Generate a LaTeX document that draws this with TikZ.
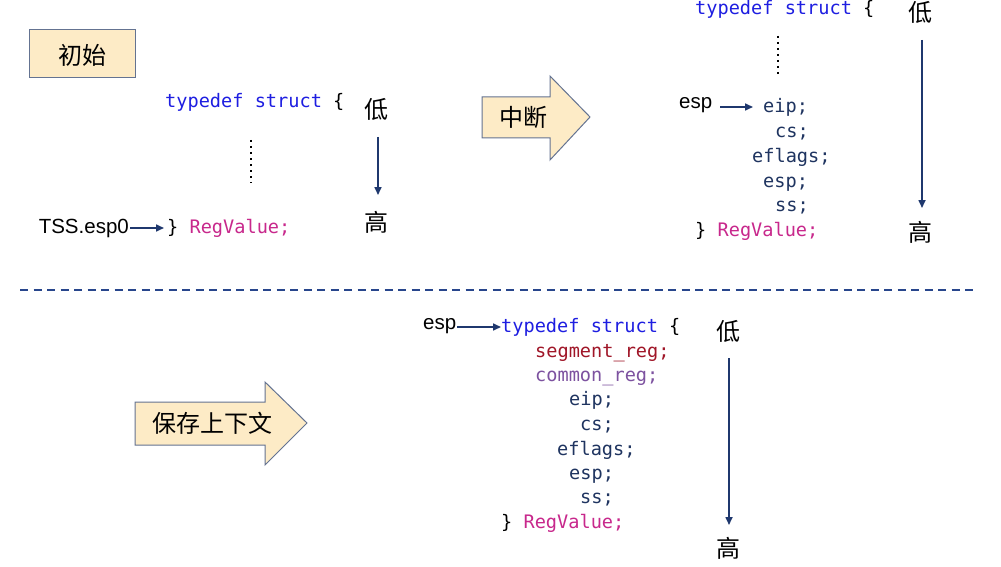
\documentclass[tikz,border=0pt]{standalone}
\usepackage{fontspec}
\setmainfont{Liberation Sans}
\setmonofont{DejaVu Sans Mono}
\newfontfamily\cjk{Noto Sans CJK SC}
\usetikzlibrary{arrows.meta}
\definecolor{kwblue}{RGB}{30,30,225}
\definecolor{fieldnavy}{RGB}{31,52,96}
\definecolor{rvmag}{RGB}{200,40,140}
\definecolor{segred}{RGB}{160,22,40}
\definecolor{compurple}{RGB}{125,82,160}
\definecolor{arrnavy}{RGB}{31,56,110}
\definecolor{boxfill}{RGB}{253,235,198}
\definecolor{boxedge}{RGB}{100,115,145}
\definecolor{dashblue}{RGB}{40,70,140}
\tikzset{
  code/.style={anchor=base west,inner sep=0pt,font=\ttfamily\fontsize{18.6}{20}\selectfont},
  lbl/.style={inner sep=1pt,font=\fontsize{20.5}{21}\selectfont},
  cjklbl/.style={inner sep=0pt,font=\cjk\fontsize{24}{25}\selectfont},
  navyarrow/.style={draw=arrnavy,line width=1.6pt,-{Triangle[length=8pt,width=7pt]}},
  dotline/.style={draw=black,line width=2.2pt,dash pattern=on 2pt off 4pt},
  shapefill/.style={fill=boxfill,draw=boxedge,line width=1pt,line join=miter}
}
\begin{document}
\begin{tikzpicture}[x=1pt,y=-1pt]
\useasboundingbox[fill=white] (0,0) rectangle (1001,567);

% ---------- top left: initial ----------
\draw[shapefill] (29,30) rectangle (135,78);
\node[cjklbl] (init) at (82,55) {初始};

\node[code,text=kwblue] (tl1) at (165,108) {typedef struct \textcolor{black}{\{}};
\draw[dotline] (251,140) -- (251,183);
\node[code] (tlrv) at (167,233) {\}\ \textcolor{rvmag}{RegValue;}};
\node[lbl,anchor=east] (tss) at (130,228) {TSS.esp0};
\draw[navyarrow] (tss.east) -- ([xshift=-3pt]tss.east -| tlrv.west);

\node[cjklbl] (tllow) at (376,109) {低};
\node[cjklbl] (tlhigh) at (376,222) {高};
\draw[navyarrow] (378,137) -- (378,195);

% ---------- top right: interrupt ----------
\draw[shapefill] (482,97) -- (550,97) -- (550,76) -- (590,117) -- (550,160) -- (550,138) -- (482,138) -- cycle;
\node[cjklbl] (intr) at (523,117) {中断};

\node[code,text=kwblue] (tr1) at (695,15) {typedef struct \textcolor{black}{\{}};
\draw[dotline] (778,36) -- (778,77);
\node[lbl,anchor=west] (tresp) at (678,105) {esp};
\node[code,text=fieldnavy] (treip) at (763,113) {eip;};
\node[code,text=fieldnavy] (trcs) at (775,138) {cs;};
\node[code,text=fieldnavy] (trefl) at (752,162) {eflags;};
\node[code,text=fieldnavy] (tresp2) at (763,187) {esp;};
\node[code,text=fieldnavy] (trss) at (775,211) {ss;};
\node[code] (trrv) at (695,236) {\}\ \textcolor{rvmag}{RegValue;}};
\draw[navyarrow] ([xshift=7pt]tresp.east |- 0,107) -- (753,107);

\node[cjklbl] (trlow) at (920,12) {低};
\node[cjklbl] (trhigh) at (920,232) {高};
\draw[navyarrow] (922,40) -- (922,208);

% ---------- separator ----------
\draw[dashblue,line width=1.5pt,dash pattern=on 8pt off 5.5pt] (20,290) -- (975,290);

% ---------- bottom: save context ----------
\draw[shapefill] (135,402) -- (265,402) -- (265,382) -- (307,423) -- (265,465) -- (265,445) -- (135,445) -- cycle;
\node[cjklbl] (save) at (212,423) {保存上下文};

\node[lbl,anchor=west] (besp) at (422,326) {esp};
\node[code,text=kwblue] (b1) at (501,332) {typedef struct \textcolor{black}{\{}};
\draw[navyarrow] (besp.east |- 0,327) -- (b1.west |- 0,327);
\node[code,text=segred] (bseg) at (535,357) {segment\_reg;};
\node[code,text=compurple] (bcom) at (535,381) {common\_reg;};
\node[code,text=fieldnavy] (beip) at (569,405) {eip;};
\node[code,text=fieldnavy] (bcs) at (580,430) {cs;};
\node[code,text=fieldnavy] (befl) at (557,455) {eflags;};
\node[code,text=fieldnavy] (besp2) at (569,479) {esp;};
\node[code,text=fieldnavy] (bss) at (580,503) {ss;};
\node[code] (brv) at (501,528) {\}\ \textcolor{rvmag}{RegValue;}};

\node[cjklbl] (blow) at (728,331) {低};
\node[cjklbl] (bhigh) at (728,548) {高};
\draw[navyarrow] (729,358) -- (729,525);
\end{tikzpicture}
\end{document}
